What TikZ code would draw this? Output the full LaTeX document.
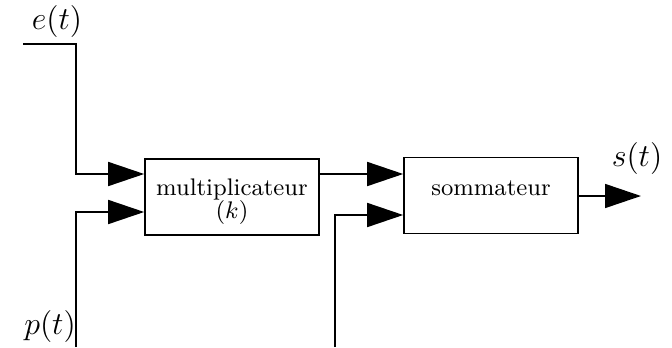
\documentclass[tikz,border=0pt]{standalone}
\usetikzlibrary{arrows.meta}
\begin{document}
\begin{tikzpicture}[x=0.375pt,y=-0.375pt,
  line width=0.6pt,
  arr/.style={-{Triangle[length=13.5pt,width=9pt]}},
  blk/.style={draw,minimum width=65.25pt,minimum height=28.4pt,inner sep=0pt,align=center,font=\small},
  lbl/.style={font=\fontsize{12.8}{15}\selectfont,inner sep=0pt}]
\useasboundingbox (0,0) rectangle (672,347);
\node[blk] (m) at (232,197) {};
\node[font=\small,inner sep=0pt] (mt) at (232,189) {multiplicateur};
\node[font=\small,inner sep=0pt] (mk) at (232,212) {$(k)$};
\node[blk] (s) at (491,195.5) {};
\node[font=\small,inner sep=0pt] (st) at (491,188) {sommateur};
\node[lbl] (el) at (57,21) {$e(t)$};
\node[lbl] (pl) at (50,326) {$p(t)$};
\node[lbl] (sl) at (637,158) {$s(t)$};
\coordinate (e0) at (23,44);
\coordinate (e1) at (76,44);
\coordinate (p0) at (76,347);
\coordinate (q0) at (335,347);
\coordinate (out) at (641,196);
\draw[arr] (e0) -- (e1) |- (m.west |- 0,174);
\draw[arr] (p0) |- (m.west |- 0,212);
\draw[arr] (m.east |- 0,174) -- (s.west |- 0,174);
\draw[arr] (q0) |- (s.west |- 0,215);
\draw[arr] (s.east |- out) -- (out);
\end{tikzpicture}
\end{document}
